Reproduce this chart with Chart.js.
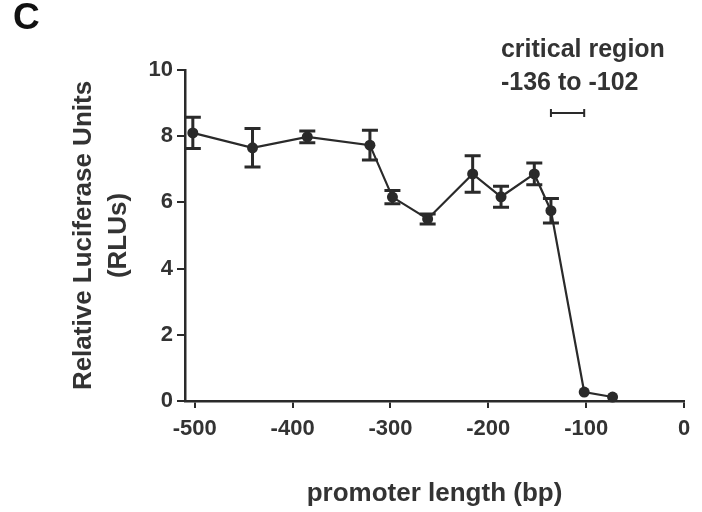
<!DOCTYPE html>
<html lang="en">
<head>
  <meta charset="UTF-8">
  <title>Promoter deletion luciferase</title>
  <script src="https://cdn.jsdelivr.net/npm/chart.js"></script>
  <style>
    body {
      margin: 0;
      background: #fff;
    }
    canvas {
      display: block;
    }
  </style>
</head>
<body>
  <canvas id="promoterChart" width="702" height="512"></canvas>

  <script>
    // promoter length (bp) vs luciferase activity, mean +/- error
    const promoterLength = [-502, -441, -385, -321, -298, -262, -216, -187, -153, -136, -102, -73];
    const rluMean = [8.1, 7.65, 7.98, 7.73, 6.16, 5.5, 6.86, 6.17, 6.86, 5.75, 0.27, 0.12];
    const rluErr = [0.47, 0.58, 0.18, 0.45, 0.2, 0.15, 0.55, 0.32, 0.33, 0.37, 0.05, 0.04];

    const xTicks = [-500, -400, -300, -200, -100, 0];
    const yTicks = [0, 2, 4, 6, 8, 10];

    // critical region marker
    const critStart = -136;
    const critEnd = -102;
    const critLevel = 8.7;
    const critLabel = ['critical region', '-136 to -102'];

    const ink = '#2a2a2a';
    const textColor = '#333';
    const fontFamily = "'Liberation Sans', Arial, sans-serif";

    const errorBars = {
      id: 'errorBars',
      afterDatasetsDraw(chart) {
        const ctx = chart.ctx;
        const x = chart.scales.x;
        const y = chart.scales.y;
        ctx.save();
        ctx.strokeStyle = ink;
        ctx.lineWidth = 3;
        promoterLength.forEach((px, i) => {
          const cx = x.getPixelForValue(px);
          const top = y.getPixelForValue(rluMean[i] + rluErr[i]);
          const bot = y.getPixelForValue(rluMean[i] - rluErr[i]);
          if (bot - top < 4) return;
          ctx.beginPath();
          ctx.moveTo(cx, top);
          ctx.lineTo(cx, bot);
          ctx.moveTo(cx - 8, top);
          ctx.lineTo(cx + 8, top);
          ctx.moveTo(cx - 8, bot);
          ctx.lineTo(cx + 8, bot);
          ctx.stroke();
        });

        // critical region bar
        const x1 = x.getPixelForValue(critStart);
        const x2 = x.getPixelForValue(critEnd);
        const cy = y.getPixelForValue(critLevel);
        ctx.lineWidth = 2;
        ctx.beginPath();
        ctx.moveTo(x1, cy);
        ctx.lineTo(x2, cy);
        ctx.moveTo(x1, cy - 4);
        ctx.lineTo(x1, cy + 4);
        ctx.moveTo(x2, cy - 4);
        ctx.lineTo(x2, cy + 4);
        ctx.stroke();

        ctx.fillStyle = textColor;
        ctx.font = 'bold 25px ' + fontFamily;
        ctx.textAlign = 'left';
        ctx.textBaseline = 'alphabetic';
        ctx.fillText(critLabel[0], x1 - 50, cy - 56);
        ctx.fillText(critLabel[1], x1 - 50, cy - 23);

        // panel letter
        ctx.fillStyle = '#111';
        ctx.font = 'bold 37px ' + fontFamily;
        ctx.fillText('C', 13, 29);
        ctx.restore();
      }
    };

    const ctx = document.getElementById('promoterChart').getContext('2d');
    new Chart(ctx, {
      type: 'line',
      data: {
        datasets: [{
          data: promoterLength.map((v, i) => ({ x: v, y: rluMean[i] })),
          borderColor: ink,
          borderWidth: 2.2,
          backgroundColor: ink,
          pointRadius: 5.5,
          pointBackgroundColor: ink,
          pointBorderWidth: 0,
          tension: 0,
          clip: false
        }]
      },
      options: {
        responsive: false,
        animation: false,
        layout: { padding: { top: 70, right: 18, bottom: 0, left: 0 } },
        plugins: {
          legend: { display: false },
          tooltip: { enabled: false }
        },
        scales: {
          x: {
            type: 'linear',
            min: -510,
            max: 0,
            afterBuildTicks: s => { s.ticks = xTicks.map(v => ({ value: v })); },
            afterFit: s => { s.height = 111; },
            grid: { display: true, drawOnChartArea: false, tickLength: 7, color: ink, lineWidth: 2 },
            border: { display: true, color: ink, width: 2.5 },
            ticks: {
              padding: 8,
              color: textColor,
              font: { family: fontFamily, size: 22, weight: 'bold' },
              maxRotation: 0
            },
            title: {
              display: true,
              text: 'promoter length (bp)',
              color: textColor,
              font: { family: fontFamily, size: 26, weight: 'bold' },
              padding: { top: 0, bottom: 3 }
            }
          },
          y: {
            min: 0,
            max: 10,
            afterBuildTicks: s => { s.ticks = yTicks.map(v => ({ value: v })); },
            afterFit: s => { s.width = 185; },
            grid: { display: true, drawOnChartArea: false, tickLength: 8, color: ink, lineWidth: 2 },
            border: { display: true, color: ink, width: 2.5 },
            ticks: {
              padding: 4,
              color: textColor,
              font: { family: fontFamily, size: 22, weight: 'bold' }
            },
            title: {
              display: true,
              text: ['Relative Luciferase Units', '(RLUs)'],
              color: textColor,
              font: { family: fontFamily, size: 26, weight: 'bold', lineHeight: 1.35 },
              padding: { top: 66, bottom: 0 }
            }
          }
        }
      },
      plugins: [errorBars]
    });
  </script>
</body>
</html>
